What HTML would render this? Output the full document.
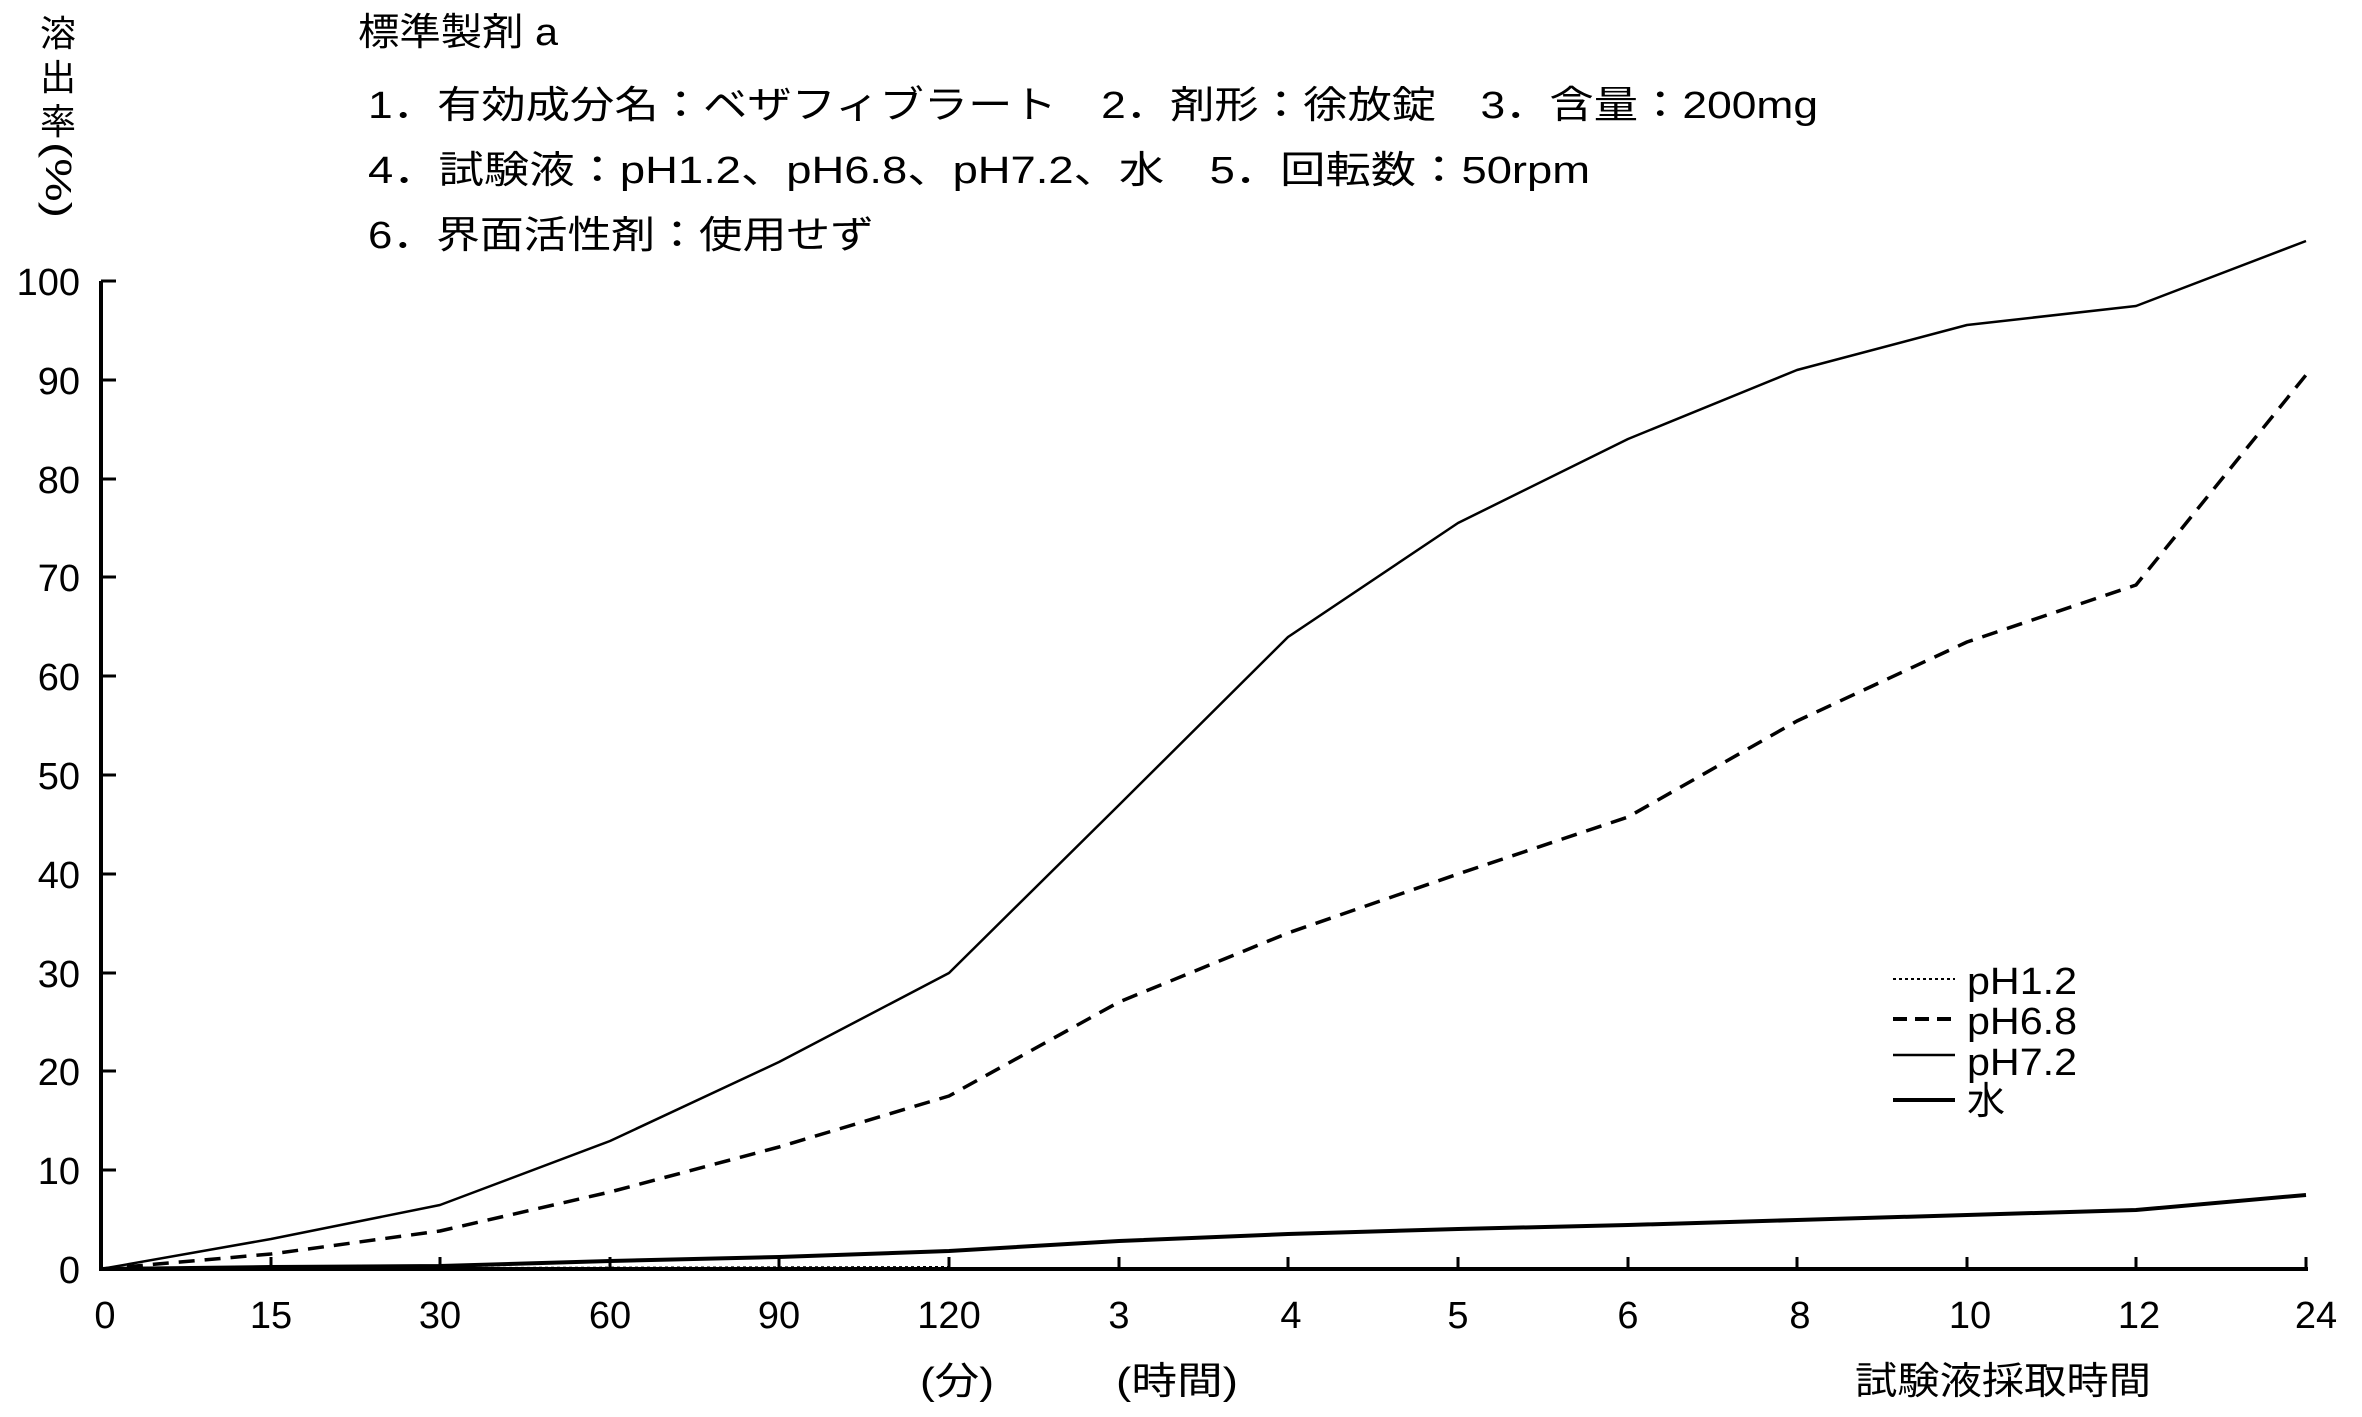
<!DOCTYPE html>
<html><head><meta charset="utf-8"><style>
html,body{margin:0;padding:0;background:#fff;}
svg{display:block;}
text{font-family:"Liberation Sans","Noto Sans CJK JP",sans-serif;fill:#000;}
</style></head><body>
<svg width="2362" height="1417" viewBox="0 0 2362 1417" xmlns="http://www.w3.org/2000/svg">
<!-- header -->
<text x="358" y="45" font-size="38" textLength="200" lengthAdjust="spacingAndGlyphs">標準製剤 a</text>
<text x="368" y="118" font-size="38" textLength="1450" lengthAdjust="spacingAndGlyphs">1．有効成分名：ベザフィブラート　2．剤形：徐放錠　3．含量：200mg</text>
<text x="368" y="183" font-size="38" textLength="1222" lengthAdjust="spacingAndGlyphs">4．試験液：pH1.2、pH6.8、pH7.2、水　5．回転数：50rpm</text>
<text x="368" y="248" font-size="38" textLength="506" lengthAdjust="spacingAndGlyphs">6．界面活性剤：使用せず</text>
<!-- y label vertical -->
<g font-size="36" text-anchor="middle">
<text x="58" y="46">溶</text>
<text x="58" y="90">出</text>
<text x="58" y="134">率</text>
<text x="0" y="0" transform="translate(46 180) rotate(90)" text-anchor="middle" textLength="76" lengthAdjust="spacingAndGlyphs">(%)</text>
</g>
<!-- axes -->
<g stroke="#000" stroke-width="4" fill="none">
<line x1="101" y1="281" x2="101" y2="1271"/>
<line x1="99" y1="1269" x2="2308" y2="1269"/>
</g>
<g stroke="#000" stroke-width="3">
<line x1="101" y1="281" x2="116" y2="281"/>
<line x1="101" y1="380" x2="116" y2="380"/>
<line x1="101" y1="479" x2="116" y2="479"/>
<line x1="101" y1="577" x2="116" y2="577"/>
<line x1="101" y1="676" x2="116" y2="676"/>
<line x1="101" y1="775" x2="116" y2="775"/>
<line x1="101" y1="874" x2="116" y2="874"/>
<line x1="101" y1="973" x2="116" y2="973"/>
<line x1="101" y1="1071" x2="116" y2="1071"/>
<line x1="101" y1="1170" x2="116" y2="1170"/>
<line x1="271" y1="1257" x2="271" y2="1269"/>
<line x1="440" y1="1257" x2="440" y2="1269"/>
<line x1="610" y1="1257" x2="610" y2="1269"/>
<line x1="779" y1="1257" x2="779" y2="1269"/>
<line x1="949" y1="1257" x2="949" y2="1269"/>
<line x1="1119" y1="1257" x2="1119" y2="1269"/>
<line x1="1288" y1="1257" x2="1288" y2="1269"/>
<line x1="1458" y1="1257" x2="1458" y2="1269"/>
<line x1="1628" y1="1257" x2="1628" y2="1269"/>
<line x1="1797" y1="1257" x2="1797" y2="1269"/>
<line x1="1967" y1="1257" x2="1967" y2="1269"/>
<line x1="2136" y1="1257" x2="2136" y2="1269"/>
<line x1="2306" y1="1257" x2="2306" y2="1269"/>
</g>
<!-- y tick labels -->
<g font-size="38" text-anchor="end">
<text x="80" y="295">100</text>
<text x="80" y="394">90</text>
<text x="80" y="493">80</text>
<text x="80" y="591">70</text>
<text x="80" y="690">60</text>
<text x="80" y="789">50</text>
<text x="80" y="888">40</text>
<text x="80" y="987">30</text>
<text x="80" y="1085">20</text>
<text x="80" y="1184">10</text>
<text x="80" y="1283">0</text>
</g>
<!-- x tick labels -->
<g font-size="38" text-anchor="middle">
<text x="105" y="1328">0</text>
<text x="271" y="1328">15</text>
<text x="440" y="1328">30</text>
<text x="610" y="1328">60</text>
<text x="779" y="1328">90</text>
<text x="949" y="1328">120</text>
<text x="1119" y="1328">3</text>
<text x="1291" y="1328">4</text>
<text x="1458" y="1328">5</text>
<text x="1628" y="1328">6</text>
<text x="1800" y="1328">8</text>
<text x="1970" y="1328">10</text>
<text x="2139" y="1328">12</text>
<text x="2316" y="1328">24</text>
</g>
<g font-size="38">
<text x="920" y="1394" textLength="74" lengthAdjust="spacingAndGlyphs">(分)</text>
<text x="1116" y="1394" textLength="122" lengthAdjust="spacingAndGlyphs">(時間)</text>
<text x="1855" y="1394" textLength="296" lengthAdjust="spacingAndGlyphs">試験液採取時間</text>
</g>
<!-- series -->
<g fill="none" stroke="#000" stroke-linejoin="round">
<polyline stroke-width="2.5" points="101,1269 271,1239 440,1205 610,1141 779,1062 949,973 1119,805 1288,637 1458,523 1628,439 1797,370 1967,325 2136,306 2306,241"/>
<polyline stroke-width="3.5" stroke-dasharray="16,10" points="101,1269 271,1254 440,1231 610,1192 779,1147 949,1096 1119,1002 1288,933 1458,874 1628,817 1797,721 1967,642 2136,585 2306,375"/>
<polyline stroke-width="2" stroke-dasharray="3,3" points="101,1269 440,1268 949,1267"/>
<polyline stroke-width="4" points="101,1269 271,1267 440,1266 610,1261 779,1257 949,1251 1119,1241 1288,1234 1458,1229 1628,1225 1797,1220 1967,1215 2136,1210 2306,1195"/>
</g>
<!-- legend -->
<g fill="none" stroke="#000">
<line x1="1893" y1="979" x2="1955" y2="979" stroke-width="2" stroke-dasharray="3,3"/>
<line x1="1893" y1="1019" x2="1955" y2="1019" stroke-width="4" stroke-dasharray="14,8"/>
<line x1="1893" y1="1055" x2="1955" y2="1055" stroke-width="2.5"/>
<line x1="1893" y1="1100" x2="1955" y2="1100" stroke-width="4"/>
</g>
<g font-size="38">
<text x="1967" y="994" textLength="110" lengthAdjust="spacingAndGlyphs">pH1.2</text>
<text x="1967" y="1034" textLength="110" lengthAdjust="spacingAndGlyphs">pH6.8</text>
<text x="1967" y="1075" textLength="110" lengthAdjust="spacingAndGlyphs">pH7.2</text>
<text x="1967" y="1114">水</text>
</g>
</svg>
</body></html>
